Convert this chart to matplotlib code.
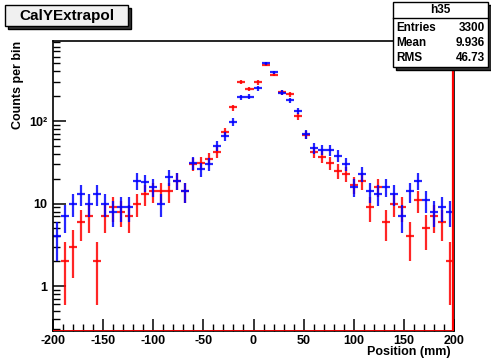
import numpy as np
import matplotlib

matplotlib.use("Agg")

import matplotlib.pyplot as plt
from matplotlib.patches import Rectangle
from matplotlib.ticker import FixedLocator, NullFormatter

# 50 bins of 8 mm from -200 to 200
bin_edges = np.linspace(-200, 200, 51)
bin_centers = 0.5 * (bin_edges[:-1] + bin_edges[1:])

blue_counts = [4, 7, 10, 13, 10, 13, 10, 8, 9, 9, 19, 18, 16,
               10, 21, 19, 14, 31, 26, 30, 50, 65, 98, 194, 197,
               249, 500, 389, 220, 178, 133, 69, 47, 45, 44, 38, 30,
               16, 23, 14, 13, 16, 13, 7, 14, 19, 11, 8, 9, 8]
red_counts = [0, 2, 3, 6, 7, 2, 7, 9, 8, 7, 10, 13, 14,
              14, 14, 19, 14, 30, 31, 35, 42, 74, 146, 299, 244,
              294, 480, 366, 222, 210, 115, 68, 42, 37, 31, 25, 23,
              17, 19, 9, 16, 6, 10, 9, 4, 11, 5, 7, 6, 2]

title_text = "CalYExtrapol"
stats_name = "h35"
stats_rows = [("Entries", "3300"), ("Mean", "9.936"), ("RMS", "46.73")]

W, H = 491, 361
FONT = ["Liberation Sans", "DejaVu Sans"]
plt.rcParams["font.family"] = FONT


def px(x, y):
    return x / W, 1 - y / H


fig = plt.figure(figsize=(W / 100, H / 100), dpi=100)
fig.patch.set_facecolor("white")
ax = fig.add_axes([53 / W, 1 - 331 / H, (454 - 53) / W, (331 - 41) / H])

ymin, ymax = 0.285, 933


def draw_hist(counts, color):
    counts = np.asarray(counts, dtype=float)
    keep = counts > 0
    c = counts[keep]
    err = np.sqrt(c)
    lo = np.clip(c - err, ymin * 0.5, None)
    ax.errorbar(bin_centers[keep], c, xerr=4, yerr=[c - lo, err], fmt="none",
                ecolor=color, elinewidth=1.6, capsize=0, alpha=0.85)


draw_hist(red_counts, "#ff0000")
draw_hist(blue_counts, "#0000ff")

ax.set_yscale("log")
ax.set_xlim(-200, 200)
ax.set_ylim(ymin, ymax)

# red histogram line along bottom and right edge
ax.axhline(ymin, color="#ff0000", lw=2.0, zorder=4)
ax.axvline(199.3, color="#ff0000", lw=1.6, zorder=4)

for spine in ax.spines.values():
    spine.set_color("black")
    spine.set_linewidth(1.2)

ax.xaxis.set_major_locator(FixedLocator(np.arange(-200, 201, 50)))
ax.xaxis.set_minor_locator(FixedLocator(np.arange(-200, 201, 10)))
ax.yaxis.set_major_locator(FixedLocator([1, 10, 100]))
minor_y = [m * 10.0 ** d for d in range(-1, 3) for m in range(2, 10)]
ax.yaxis.set_minor_locator(FixedLocator(minor_y))
ax.yaxis.set_minor_formatter(NullFormatter())
ax.set_xticklabels([str(v) for v in range(-200, 201, 50)])
ax.set_yticklabels(["1", "10", "10²"])
ax.tick_params(axis="both", which="major", direction="in", length=9, width=1.1,
               labelsize=9, top=False, right=False)
ax.tick_params(axis="both", which="minor", direction="in", length=5, width=1.0,
               top=False, right=False)
ax.tick_params(axis="x", pad=3)
ax.tick_params(axis="y", pad=4)
for lab in ax.get_xticklabels() + ax.get_yticklabels():
    lab.set_fontweight("bold")

fig.text(*px(18, 41), "Counts per bin", rotation=90, ha="center", va="top",
         fontsize=9, fontweight="bold")
fig.text(*px(451, 352), "Position (mm)", ha="right", va="center",
         fontsize=9, fontweight="bold")


# title box with shadow
def box(x0, y0, x1, y1, fc):
    fx0, fy1 = px(x0, y0)
    fx1, fy0 = px(x1, y1)
    fig.patches.append(Rectangle((fx0, fy0), fx1 - fx0, fy1 - fy0, transform=fig.transFigure,
                                 facecolor=fc, edgecolor="black", linewidth=1.0, zorder=5))


box(8, 8, 131, 29, "#333333")
box(5, 5, 128, 26, "#f0f0f0")
fig.text(*px(66.5, 16), title_text, ha="center", va="center", fontsize=11,
         fontweight="bold", zorder=6)

# stats box with shadow
box(396, 5, 491, 70, "#333333")
box(393, 2, 488, 67, "white")
hx0, hy = px(393, 18)
hx1, _ = px(488, 18)
fig.add_artist(plt.Line2D([hx0, hx1], [hy, hy], transform=fig.transFigure,
                          color="black", lw=1.0, zorder=6))
fig.text(*px(440.5, 10), stats_name, ha="center", va="center", fontsize=8.5,
         fontweight="bold", zorder=6)
for i, (name, val) in enumerate(stats_rows):
    y = 28 + i * 15
    fig.text(*px(396, y), name, ha="left", va="center", fontsize=8.5,
             fontweight="bold", zorder=6)
    fig.text(*px(485, y), val, ha="right", va="center", fontsize=8.5,
             fontweight="bold", zorder=6)

fig.savefig("out.png", dpi=100)
